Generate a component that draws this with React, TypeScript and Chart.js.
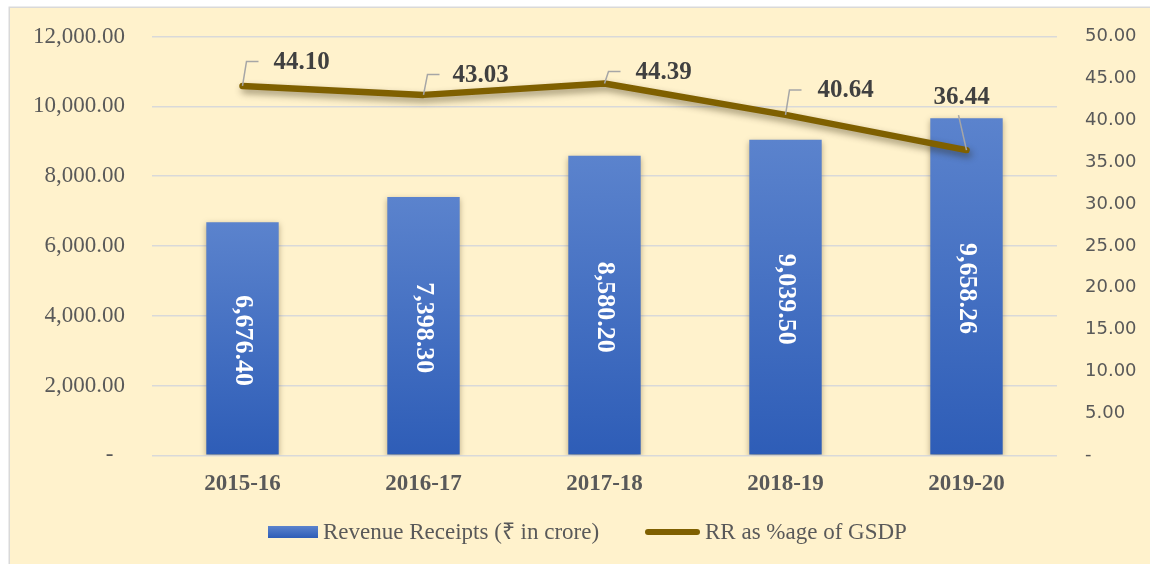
import React, { useEffect, useRef } from "react";
import { Chart, registerables } from "chart.js";

Chart.register(...registerables);

// ---- data ----
const categories = ["2015-16", "2016-17", "2017-18", "2018-19", "2019-20"];
const revenueReceipts = [6676.4, 7398.3, 8580.2, 9039.5, 9658.26];
const rrPctOfGsdp = [44.1, 43.03, 44.39, 40.64, 36.44];
const seriesLabels = ["Revenue Receipts (\u20B9 in crore)", "RR as %age of GSDP"];
const leftAxis = { min: 0, max: 12000, step: 2000 };
const rightAxis = { min: 0, max: 50, step: 5 };

// ---- style ----
const SERIF = '"Liberation Serif", "Times New Roman", serif';
const SANS = '"DejaVu Sans", Verdana, sans-serif';
const BAR_TOP = "#5B83CD";
const BAR_BOTTOM = "#2E5DB7";
const LINE_COLOR = "#7F6000";
const AXIS_TEXT = "#595959";
const LABEL_TEXT = "#404040";
// per-label placement of line data labels: [text left dx (or centre if negative), text centre dy]
const lineLabelOffsets = [
  [31, -23.5],
  [29, -19.5],
  [31, -11],
  [32, -24],
  [-5, -53],
];

const fmt2 = (v: number) =>
  v.toLocaleString("en-US", { minimumFractionDigits: 2, maximumFractionDigits: 2 });

const bgPlugin = {
  id: "bgPlugin",
  beforeDraw(chart: any) {
    const ctx = chart.ctx;
    ctx.save();
    ctx.fillStyle = "#FFFFFF";
    ctx.fillRect(0, 0, chart.width, chart.height);
    ctx.fillStyle = "#FFF2CC";
    ctx.fillRect(10, 8, chart.width - 10, chart.height - 8);
    ctx.strokeStyle = "#D9D9D9";
    ctx.lineWidth = 1.5;
    ctx.beginPath();
    ctx.moveTo(9.25, chart.height);
    ctx.lineTo(9.25, 7.25);
    ctx.lineTo(chart.width, 7.25);
    ctx.stroke();
    ctx.restore();
  },
};

const shadowPlugin = {
  id: "shadowPlugin",
  beforeDatasetDraw(chart: any, args: any) {
    const ctx = chart.ctx;
    ctx.save();
    if (args.meta.type === "bar") {
      ctx.shadowColor = "rgba(60,40,0,0.35)";
      ctx.shadowBlur = 6;
      ctx.shadowOffsetX = 0;
      ctx.shadowOffsetY = 2;
    } else {
      ctx.shadowColor = "rgba(40,30,0,0.45)";
      ctx.shadowBlur = 7;
      ctx.shadowOffsetX = 2;
      ctx.shadowOffsetY = 4;
    }
  },
  afterDatasetDraw(chart: any) {
    chart.ctx.restore();
  },
};

const labelsPlugin = {
  id: "labelsPlugin",
  afterDatasetsDraw(chart: any) {
    const ctx = chart.ctx;
    // bar labels (rotated)
    const barMeta = chart.getDatasetMeta(0);
    ctx.save();
    ctx.fillStyle = "#FFFFFF";
    ctx.font = `bold 26px ${SERIF}`;
    ctx.textAlign = "center";
    ctx.textBaseline = "middle";
    barMeta.data.forEach((el: any, i: number) => {
      const { x, y, base } = el.getProps(["x", "y", "base"], true);
      ctx.save();
      ctx.translate(x, (y + base) / 2 + 2);
      ctx.rotate(Math.PI / 2);
      ctx.fillText(fmt2(chart.data.datasets[0].data[i]), 0, 0);
      ctx.restore();
    });
    ctx.restore();

    // line labels with leader lines
    const lineMeta = chart.getDatasetMeta(1);
    ctx.save();
    ctx.font = `bold 25px ${SERIF}`;
    ctx.textBaseline = "middle";
    lineMeta.data.forEach((el: any, i: number) => {
      const { x, y } = el.getProps(["x", "y"], true);
      const [dx, dy] = lineLabelOffsets[i];
      const text = fmt2(chart.data.datasets[1].data[i]);
      ctx.strokeStyle = "#A6A6A6";
      ctx.lineWidth = 1.5;
      ctx.beginPath();
      if (dx > 0) {
        ctx.moveTo(x, y);
        ctx.lineTo(x + 4, y + dy - 1);
        ctx.lineTo(x + 16, y + dy - 1);
        ctx.stroke();
        ctx.fillStyle = LABEL_TEXT;
        ctx.textAlign = "left";
        ctx.fillText(text, x + dx, y + dy);
      } else {
        ctx.moveTo(x, y);
        ctx.lineTo(x - 8, y + dy + 18);
        ctx.stroke();
        ctx.fillStyle = LABEL_TEXT;
        ctx.textAlign = "center";
        ctx.fillText(text, x + dx, y + dy);
      }
    });
    ctx.restore();
  },
  afterDraw(chart: any) {
    const ctx = chart.ctx;
    ctx.save();
    const g = ctx.createLinearGradient(0, 526, 0, 538);
    g.addColorStop(0, BAR_TOP);
    g.addColorStop(1, BAR_BOTTOM);
    ctx.fillStyle = g;
    ctx.fillRect(268, 526, 50, 12);
    ctx.font = `23px ${SERIF}`;
    ctx.fillStyle = AXIS_TEXT;
    ctx.textAlign = "left";
    ctx.textBaseline = "middle";
    ctx.fillText(chart.data.datasets[0].label, 323, 533);
    ctx.strokeStyle = LINE_COLOR;
    ctx.lineWidth = 6;
    ctx.lineCap = "round";
    ctx.beginPath();
    ctx.moveTo(648, 532);
    ctx.lineTo(697, 532);
    ctx.stroke();
    ctx.fillText(chart.data.datasets[1].label, 705, 533);
    ctx.restore();
  },
};

export default function App() {
  const ref = useRef<HTMLCanvasElement | null>(null);

  useEffect(() => {
    if (!ref.current) return;
    const chart = new Chart(ref.current, {
      type: "bar",
      data: {
        labels: categories,
        datasets: [
          {
            type: "bar",
            label: seriesLabels[0],
            data: revenueReceipts,
            yAxisID: "y",
            order: 2,
            barPercentage: 0.4,
            categoryPercentage: 1,
            backgroundColor: (c: any) => {
              const ch = c.chart;
              if (c.type !== "data" || !ch.chartArea) return "#4472C4";
              const ys = ch.scales.y;
              const top = ys.getPixelForValue(c.raw);
              const bot = ys.getPixelForValue(0);
              const g = ch.ctx.createLinearGradient(0, top, 0, bot);
              g.addColorStop(0, BAR_TOP);
              g.addColorStop(1, BAR_BOTTOM);
              return g;
            },
          } as any,
          {
            type: "line",
            label: seriesLabels[1],
            data: rrPctOfGsdp,
            yAxisID: "y1",
            order: 1,
            borderColor: LINE_COLOR,
            backgroundColor: LINE_COLOR,
            borderWidth: 6.5,
            borderCapStyle: "round",
            borderJoinStyle: "round",
            pointRadius: 0,
            tension: 0,
          } as any,
        ],
      },
      options: {
        animation: false,
        responsive: false,
        layout: { autoPadding: false, padding: { top: 36.5, left: 0, right: 0, bottom: 0 } },
        plugins: {
          legend: { display: false },
          tooltip: { enabled: false },
        },
        scales: {
          x: {
            grid: { display: false },
            border: { display: false },
            ticks: {
              color: AXIS_TEXT,
              font: { family: SERIF, size: 23, weight: "bold" },
              padding: 7,
              maxRotation: 0,
            },
            afterFit: (s: any) => {
              s.height = 108.7;
              s.paddingLeft = 0;
              s.paddingRight = 0;
            },
          },
          y: {
            position: "left",
            min: leftAxis.min,
            max: leftAxis.max,
            grid: { color: "#D9D9D9", lineWidth: 1.5, drawTicks: false },
            border: { display: false },
            ticks: {
              stepSize: leftAxis.step,
              color: AXIS_TEXT,
              font: { family: SERIF, size: 23 },
              padding: 27,
              callback: (v: any) => (Number(v) === 0 ? "-  " : fmt2(Number(v))),
            },
            afterFit: (s: any) => {
              s.width = 152;
              s.paddingTop = 0;
              s.paddingBottom = 0;
            },
          },
          y1: {
            position: "right",
            min: rightAxis.min,
            max: rightAxis.max,
            grid: { display: false, drawTicks: false },
            border: { display: false },
            ticks: {
              stepSize: rightAxis.step,
              color: AXIS_TEXT,
              font: { family: SANS, size: 18 },
              padding: 28,
              callback: (v: any) => (Number(v) === 0 ? "-" : Number(v).toFixed(2)),
            },
            afterFit: (s: any) => {
              s.width = 93;
              s.paddingTop = 0;
              s.paddingBottom = 0;
            },
          },
        },
      } as any,
      plugins: [bgPlugin, shadowPlugin, labelsPlugin],
    });
    return () => chart.destroy();
  }, []);

  return (
    <div style={{ position: "fixed", left: 0, top: 0, width: 1150, height: 564 }}>
      <canvas ref={ref} width={1150} height={564} style={{ display: "block", width: 1150, height: 564 }} />
    </div>
  );
}
